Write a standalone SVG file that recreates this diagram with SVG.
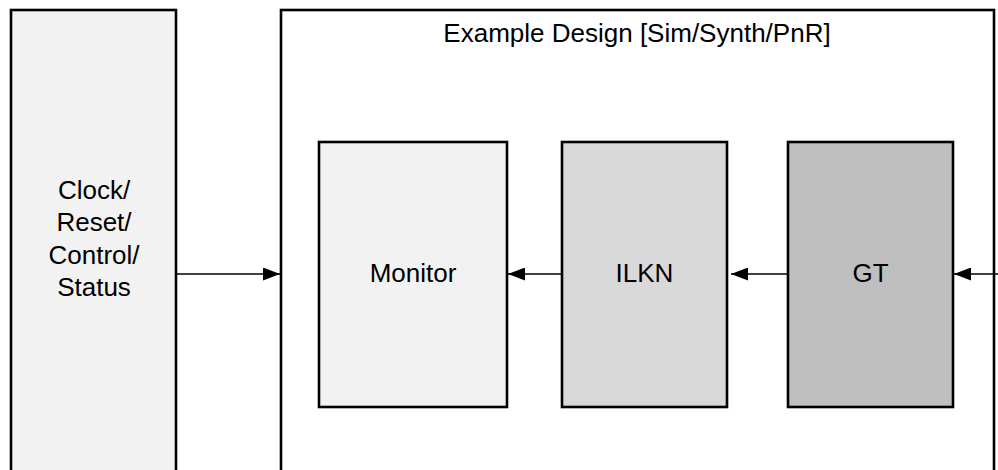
<svg xmlns="http://www.w3.org/2000/svg" width="998" height="470" viewBox="0 0 998 470">
<defs>
<style>
.box{stroke:#000;stroke-width:2.6}
.lbl{font-family:"Liberation Sans",Arial,sans-serif;font-size:26px;fill:#000;text-anchor:middle}
.wire{stroke:#000;stroke-width:1.5;fill:none}
</style>
<marker id="ah" markerUnits="userSpaceOnUse" markerWidth="18" markerHeight="13" refX="17" refY="6.5" orient="auto">
<path d="M0,0 L17,6.5 L0,13 z" fill="#000"/>
</marker>
</defs>
<rect width="998" height="470" fill="#fff"/>
<g id="clock-reset">
<rect class="box" x="11" y="10" width="165" height="480" fill="#f2f2f2"/>
<text class="lbl" x="94" y="199">Clock/</text>
<text class="lbl" x="94" y="231">Reset/</text>
<text class="lbl" x="94" y="264">Control/</text>
<text class="lbl" x="94" y="296">Status</text>
</g>
<g id="example-design">
<rect class="box" x="281" y="10" width="713" height="500" fill="#fff"/>
<text class="lbl" x="637" y="42">Example Design [Sim/Synth/PnR]</text>
</g>
<g id="monitor">
<rect class="box" x="319" y="142" width="188" height="265" fill="#f2f2f2"/>
<text class="lbl" x="413" y="282">Monitor</text>
</g>
<g id="ilkn">
<rect class="box" x="562" y="142" width="165" height="265" fill="#d9d9d9"/>
<text class="lbl" x="644.5" y="282">ILKN</text>
</g>
<g id="gt">
<rect class="box" x="788" y="142" width="165" height="265" fill="#bfbfbf"/>
<text class="lbl" x="870.5" y="282">GT</text>
</g>
<g id="connectors">
<line class="wire" x1="177" y1="274" x2="280" y2="274" marker-end="url(#ah)"/>
<line class="wire" x1="561" y1="274" x2="508" y2="274" marker-end="url(#ah)"/>
<line class="wire" x1="787" y1="274" x2="731" y2="274" marker-end="url(#ah)"/>
<line class="wire" x1="998" y1="274" x2="954" y2="274" marker-end="url(#ah)"/>
</g>
</svg>
